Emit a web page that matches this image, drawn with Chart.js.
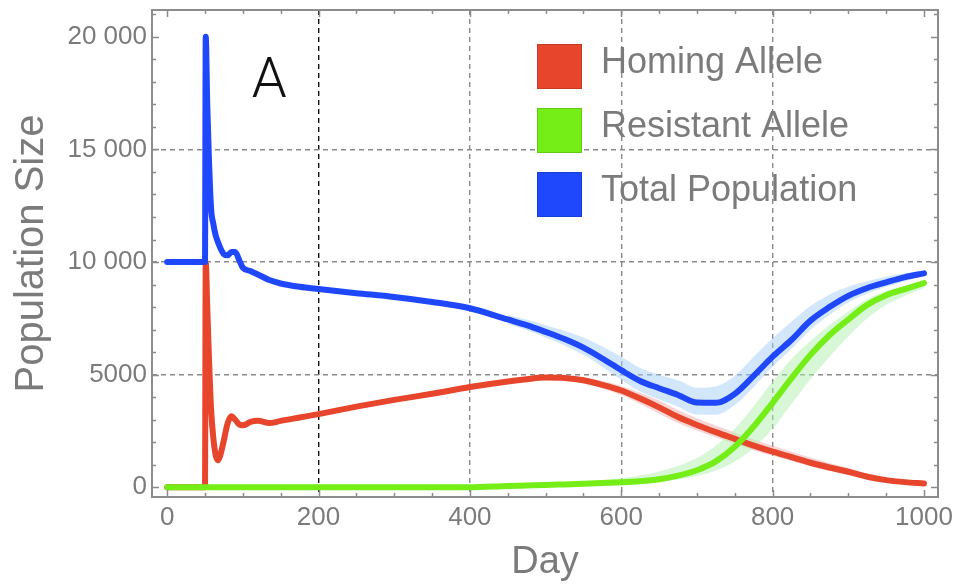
<!DOCTYPE html>
<html>
<head>
<meta charset="utf-8">
<title>Population Size</title>
<script src="https://cdn.jsdelivr.net/npm/chart.js@4.4.1/dist/chart.umd.min.js"></script>
<style>
  html, body { margin: 0; padding: 0; background: #fff; }
  #wrap { width: 955px; height: 586px; }
</style>
</head>
<body>
<div id="wrap"><canvas id="popChart" width="955" height="586"></canvas></div>
<script>
// sampled days of the simulation
var days = [0, 50, 51, 53, 55, 58, 61, 64, 67, 70, 75, 80, 85, 90, 95, 100, 110, 120, 135, 150, 175, 200,
    250, 300, 350, 400, 450, 475, 500, 525, 550, 575, 600, 625, 650, 675, 700, 725, 750, 775, 800,
    825, 850, 875, 900, 925, 950, 975, 1000];

var homing = [0, 0, 10000, 8000, 6000, 3500, 2200, 1450, 1200, 1400, 2100, 2850, 3150, 3000, 2800, 2750,
    2900, 2950, 2850, 2950, 3100, 3250, 3580, 3880, 4150, 4450, 4700, 4800, 4870, 4850, 4750, 4550, 4300,
    3940, 3550, 3120, 2770, 2450, 2150, 1850, 1580, 1340, 1090, 880, 690, 470, 320, 230, 170];

var resistant = [0, 0, 0, 0, 0, 0, 0, 0, 0, 0, 0, 0, 0, 0, 0, 0, 0, 0, 0, 0, 0, 0, 0, 0, 0, 0,
    60, 80, 100, 130, 160, 190, 220, 270, 360, 520, 760, 1150, 1800, 2700, 3750, 4850, 5880, 6750,
    7450, 8100, 8530, 8800, 9070];

var total = [10000, 10000, 20000, 17000, 14800, 12400, 11700, 11200, 10900, 10650, 10350, 10300, 10450,
    10450, 10100, 9750, 9600, 9450, 9200, 9050, 8900, 8800, 8620, 8450, 8230, 7950, 7450, 7200, 6900,
    6580, 6200, 5720, 5200, 4720, 4400, 4100, 3760, 3750, 4150, 4950, 5800, 6550, 7400, 8000, 8500,
    8850, 9100, 9330, 9500];

// spread between runs, only visible in the second half
var bandDays = [450, 475, 500, 525, 550, 575, 600, 625, 650, 675, 700, 725, 750, 775, 800, 825, 850,
    875, 900, 925, 950, 975, 1000];
var homingLow  = [4620, 4710, 4770, 4740, 4620, 4390, 4100, 3700, 3280, 2850, 2520, 2220, 1930, 1650,
    1400, 1170, 930, 720, 540, 360, 230, 160, 120];
var homingHigh = [4780, 4890, 4970, 4960, 4880, 4720, 4500, 4200, 3850, 3430, 3070, 2740, 2430, 2120,
    1840, 1580, 1320, 1080, 860, 610, 430, 320, 240];
var resistantLow  = [40, 55, 70, 90, 110, 140, 170, 200, 250, 350, 500, 750, 1150, 1750, 2600, 3700,
    4800, 5800, 6700, 7500, 8100, 8500, 8850];
var resistantHigh = [80, 100, 130, 180, 240, 310, 400, 520, 700, 950, 1300, 1850, 2600, 3600, 4700,
    5700, 6500, 7200, 7800, 8350, 8700, 8950, 9150];
var totalLow  = [7250, 6980, 6650, 6300, 5880, 5350, 4780, 4250, 3900, 3580, 3230, 3220, 3650, 4450,
    5360, 6150, 7000, 7650, 8200, 8600, 8900, 9150, 9380];
var totalHigh = [7650, 7450, 7200, 6950, 6650, 6250, 5800, 5300, 5000, 4750, 4420, 4480, 4950, 5800,
    6620, 7350, 8050, 8550, 8900, 9150, 9350, 9500, 9600];

var xTicks = [0, 200, 400, 600, 800, 1000];
var yTicks = [0, 5000, 10000, 15000, 20000];
var yTickLabels = ['0', '5000', '10 000', '15 000', '20 000'];

var RED = '#e8452d', GREEN = '#74ee16', BLUE = '#1f48fc';
var FONT = "'Liberation Sans', Arial, Helvetica, sans-serif";
var GREY_TEXT = '#7b7b7b';

function pts(xs, ys) {
    return xs.map(function (x, i) { return { x: x, y: ys[i] }; });
}

function line(label, ys, color, keyRow) {
    return {
        label: label,
        data: pts(days, ys),
        borderColor: color,
        backgroundColor: color,
        borderWidth: 6,
        borderJoinStyle: 'round',
        borderCapStyle: 'round',
        pointRadius: 0,
        cubicInterpolationMode: 'monotone',
        fill: false,
        keyRow: keyRow
    };
}

function band(lo, hi, color) {
    return [{
        label: '',
        data: pts(bandDays, hi),
        borderWidth: 0,
        borderColor: 'rgba(0,0,0,0)',
        backgroundColor: color,
        pointRadius: 0,
        cubicInterpolationMode: 'monotone',
        fill: '+1'
    }, {
        label: '',
        data: pts(bandDays, lo),
        borderWidth: 0,
        borderColor: 'rgba(0,0,0,0)',
        pointRadius: 0,
        cubicInterpolationMode: 'monotone',
        fill: false
    }];
}

// frame with inward ticks, panel letter and the key
var framePlugin = {
    id: 'frame',
    afterDraw: function (chart) {
        var ctx = chart.ctx, a = chart.chartArea;
        var xs = chart.scales.x, ys = chart.scales.y;
        ctx.save();
        ctx.strokeStyle = '#8c8c8c';
        ctx.lineWidth = 1.5;
        ctx.beginPath();
        for (var d = 0; d <= 1000; d += 50) {
            var px = Math.round(xs.getPixelForValue(d)) + 0.5;
            var len = d % 200 === 0 ? 7 : 4;
            ctx.moveTo(px, a.bottom); ctx.lineTo(px, a.bottom - len);
            ctx.moveTo(px, a.top); ctx.lineTo(px, a.top + len);
        }
        for (var v = 0; v <= 21000; v += 1000) {
            var py = Math.round(ys.getPixelForValue(v)) + 0.5;
            var l2 = v % 5000 === 0 ? 7 : 4;
            ctx.moveTo(a.left, py); ctx.lineTo(a.left + l2, py);
            ctx.moveTo(a.right, py); ctx.lineTo(a.right - l2, py);
        }
        ctx.stroke();
        ctx.lineWidth = 2;
        ctx.strokeRect(a.left, a.top, a.right - a.left, a.bottom - a.top);

        // panel letter
        ctx.fillStyle = '#111';
        ctx.font = "300 56px Roboto, " + FONT;
        ctx.textAlign = 'center';
        ctx.textBaseline = 'alphabetic';
        ctx.fillText('A', xs.getPixelForValue(135), ys.getPixelForValue(17330));

        // key
        var rows = chart.data.datasets.filter(function (ds) { return ds.keyRow !== undefined; })
            .sort(function (p, q) { return p.keyRow - q.keyRow; });
        ctx.font = '36px ' + FONT;
        ctx.textAlign = 'left';
        rows.forEach(function (ds, i) {
            var top = 44 + i * 64;
            ctx.fillStyle = ds.borderColor;
            ctx.fillRect(537, top, 45, 45);
            ctx.strokeStyle = 'rgba(0,0,0,0.15)';
            ctx.lineWidth = 1;
            ctx.strokeRect(537.5, top + 0.5, 44, 44);
            ctx.fillStyle = GREY_TEXT;
            ctx.fillText(ds.label, 601, top + 29);
        });
        ctx.restore();
    }
};

var datasets = [
    line('Total Population', total, BLUE, 2),
    line('Resistant Allele', resistant, GREEN, 1),
    line('Homing Allele', homing, RED, 0)
].concat(
    band(totalLow, totalHigh, 'rgba(165, 208, 250, 0.5)'),
    band(resistantLow, resistantHigh, 'rgba(175, 240, 175, 0.5)'),
    band(homingLow, homingHigh, 'rgba(240, 160, 160, 0.45)')
);

var ctx = document.getElementById('popChart').getContext('2d');

var popChart = new Chart(ctx, {
    type: 'line',
    data: { datasets: datasets },
    plugins: [framePlugin],
    options: {
        responsive: false,
        animation: false,
        layout: { padding: { top: 10, right: 17, left: 0, bottom: 0 } },
        plugins: {
            legend: { display: false },
            tooltip: { enabled: false }
        },
        scales: {
            x: {
                type: 'linear',
                min: -20,
                max: 1018.5,
                afterBuildTicks: function (s) {
                    s.ticks = xTicks.map(function (v) { return { value: v }; });
                },
                afterFit: function (s) {
                    s.height = 89;
                    s.paddingLeft = 0;
                    s.paddingRight = 0;
                },
                ticks: {
                    font: { family: FONT, size: 26 },
                    color: GREY_TEXT,
                    padding: 5,
                    maxRotation: 0,
                    autoSkip: false,
                    callback: function (v) { return String(v); }
                },
                grid: {
                    drawTicks: false,
                    lineWidth: 1.4,
                    color: function (c) {
                        var v = c.tick ? c.tick.value : null;
                        if (v === 200) return '#111';
                        if (v === 400 || v === 600 || v === 800) return '#8a8a8a';
                        return 'rgba(0,0,0,0)';
                    }
                },
                border: { display: false, dash: [5, 4] },
                title: {
                    display: true,
                    text: 'Day',
                    color: GREY_TEXT,
                    font: { family: FONT, size: 38 },
                    padding: { top: 1, bottom: 1 }
                }
            },
            y: {
                type: 'linear',
                min: -430,
                max: 21190,
                afterBuildTicks: function (s) {
                    s.ticks = yTicks.map(function (v) { return { value: v }; });
                },
                afterFit: function (s) {
                    s.width = 152;
                    s.paddingTop = 0;
                    s.paddingBottom = 0;
                },
                ticks: {
                    font: { family: FONT, size: 26 },
                    color: GREY_TEXT,
                    padding: 5,
                    callback: function (v) { return yTickLabels[yTicks.indexOf(v)]; }
                },
                grid: {
                    drawTicks: false,
                    lineWidth: 1.4,
                    color: function (c) {
                        var v = c.tick ? c.tick.value : null;
                        if (v === 5000 || v === 10000 || v === 15000) return '#8a8a8a';
                        return 'rgba(0,0,0,0)';
                    }
                },
                border: { display: false, dash: [5, 4] },
                title: {
                    display: true,
                    text: 'Population Size',
                    color: GREY_TEXT,
                    font: { family: FONT, size: 40 },
                    padding: { top: 8, bottom: 0 }
                }
            }
        }
    }
});
</script>
</body>
</html>
